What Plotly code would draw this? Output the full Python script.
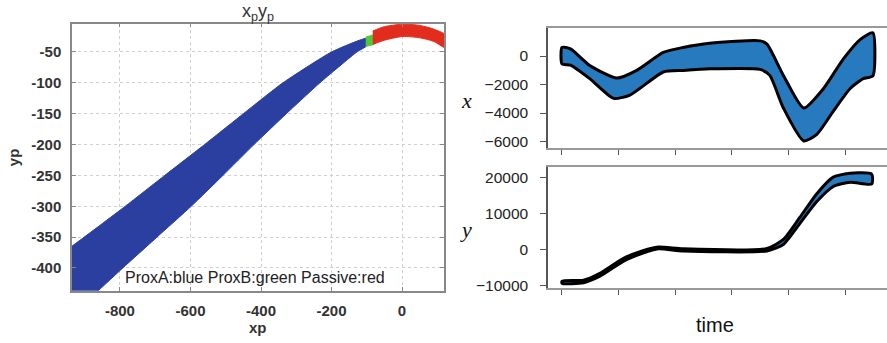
import plotly.graph_objects as go

# ---------------- Left panel: xp / yp ----------------
proxA_upper_x = [-1000, -937, -785, -673, -560, -450, -338, -200, -100]
proxA_upper_y = [-389, -365, -300, -250, -200, -150, -100, -50, -28]
proxA_lower_x = [-100, -128, -233, -328, -420, -508, -598, -695, -792, -862, -945]
proxA_lower_y = [-40, -50, -100, -150, -200, -250, -300, -350, -400, -437, -480]

proxB_x = [-103, -81, -81, -103]
proxB_y = [-26, -22, -38, -41]

passive_upper_x = [-83, -50, 0, 13, 50, 90, 130]
passive_upper_y = [-16, -9, -5, -5, -7, -13, -25]
passive_lower_x = [130, 90, 50, 13, 0, -50, -83]
passive_lower_y = [-45, -33, -27, -25, -25, -31, -38]

left_xticks = [-800, -600, -400, -200, 0]
left_xtick_text = ["-800", "-600", "-400", "-200", "0"]
left_yticks = [-50, -100, -150, -200, -250, -300, -350, -400]
left_ytick_text = ["-50", "-100", "-150", "-200", "-250", "-300", "-350", "-400"]

# ---------------- Right panels: x and y over time ----------------
x_up_t = [0, 0.15, 0.49, 0.97, 1.32, 1.79, 2.14, 2.61, 3.5, 3.62, 3.91, 4.27, 4.62, 4.97, 5.27, 5.49]
x_up_v = [600, 500, -670, -1550, -1010, 250, 600, 900, 1060, 830, -1360, -3650, -2280, -200, 1170, 1630]
x_lo_t = [0, 0.15, 0.49, 0.91, 1.2, 1.79, 2.14, 2.61, 3.5, 3.67, 3.91, 4.27, 4.5, 4.79, 5.09, 5.32, 5.49]
x_lo_v = [-550, -640, -1590, -2970, -2740, -1120, -1010, -900, -940, -1360, -3650, -5960, -5500, -3880, -2280, -1590, -1400]

y_up_t = [0, 0.38, 0.67, 1.08, 1.43, 1.7, 2.14, 3.62, 3.91, 4.2, 4.5, 4.79, 5.09, 5.47]
y_up_v = [-8700, -8400, -6500, -2400, -200, 800, 300, 400, 2900, 9000, 15600, 20200, 21300, 21000]
y_lo_t = [0, 0.38, 0.67, 1.08, 1.43, 1.7, 2.14, 3.62, 3.91, 4.2, 4.5, 4.79, 5.09, 5.47]
y_lo_v = [-9300, -9100, -7300, -3200, -900, 300, -300, -300, 1500, 7300, 13400, 17600, 18800, 18300]

time_ticks = [0, 1, 2, 3, 4, 5]
x_ticks = [0, -2000, -4000, -6000]
x_tick_text = ["0", "\u22122000", "\u22124000", "\u22126000"]
y_ticks = [20000, 10000, 0, -10000]
y_tick_text = ["20000", "10000", "0", "\u221210000"]

BLUE_DARK = "rgb(43,63,160)"
GREEN = "rgb(80,200,60)"
RED = "rgb(226,45,30)"
BLUE_FILL = "rgb(40,122,190)"

fig = go.Figure()

# left panel traces
fig.add_trace(go.Scatter(
    x=proxA_upper_x + proxA_lower_x, y=proxA_upper_y + proxA_lower_y,
    fill="toself", fillcolor=BLUE_DARK,
    line=dict(color=BLUE_DARK, width=1, shape="spline", smoothing=0.5),
    mode="lines", xaxis="x", yaxis="y", showlegend=False, hoverinfo="skip"))
fig.add_trace(go.Scatter(
    x=proxB_x, y=proxB_y, fill="toself", fillcolor=GREEN,
    line=dict(color=GREEN, width=1), mode="lines",
    xaxis="x", yaxis="y", showlegend=False, hoverinfo="skip"))
fig.add_trace(go.Scatter(
    x=passive_upper_x + passive_lower_x, y=passive_upper_y + passive_lower_y,
    fill="toself", fillcolor=RED, line=dict(color=RED, width=1, shape="spline", smoothing=0.8),
    mode="lines", xaxis="x", yaxis="y", showlegend=False, hoverinfo="skip"))

# right top panel
fig.add_trace(go.Scatter(
    x=x_up_t + x_lo_t[::-1] + [x_up_t[0]], y=x_up_v + x_lo_v[::-1] + [x_up_v[0]],
    fill="toself", fillcolor=BLUE_FILL,
    line=dict(color="black", width=3, shape="spline", smoothing=0.6),
    mode="lines", xaxis="x2", yaxis="y2", showlegend=False, hoverinfo="skip"))

# right bottom panel
fig.add_trace(go.Scatter(
    x=y_up_t + y_lo_t[::-1] + [y_up_t[0]], y=y_up_v + y_lo_v[::-1] + [y_up_v[0]],
    fill="toself", fillcolor=BLUE_FILL,
    line=dict(color="black", width=3, shape="spline", smoothing=0.6),
    mode="lines", xaxis="x3", yaxis="y3", showlegend=False, hoverinfo="skip"))

W, H = 887, 343
def px(x):
    return x / W
def py(y):
    return (H - y) / H

SANS = "Liberation Sans, Arial, sans-serif"
tickfont_left = dict(family=SANS, size=15, color="#333", weight="bold")
tickfont_right = dict(family=SANS, size=15.5, color="#222")

fig.update_layout(
    width=W, height=H,
    margin=dict(l=0, r=0, t=0, b=0),
    paper_bgcolor="white", plot_bgcolor="white",
    xaxis=dict(domain=[px(72), px(444)], range=[-936, 119],
               tickvals=left_xticks, ticktext=left_xtick_text,
               showgrid=True, gridcolor="#cfcfcf", griddash="dot", gridwidth=1,
               zeroline=False, showline=True, linecolor="#888", linewidth=1.5,
               mirror="ticks", ticks="inside", ticklen=4, tickcolor="#888",
               ticklabelstandoff=5, tickfont=tickfont_left, anchor="y"),
    yaxis=dict(domain=[py(296), py(24)], range=[-437, -4],
               tickvals=left_yticks, ticktext=left_ytick_text,
               showgrid=True, gridcolor="#cfcfcf", griddash="dot", gridwidth=1,
               zeroline=False, showline=True, linecolor="#888", linewidth=1.5,
               mirror="ticks", ticks="inside", ticklen=4, tickcolor="#888",
               ticklabelstandoff=6, tickfont=tickfont_left, anchor="x"),
    xaxis2=dict(domain=[px(548), 1.0], range=[-0.247, 5.74],
                tickvals=time_ticks, showticklabels=False,
                showgrid=False, zeroline=False, showline=True, linecolor="#999",
                linewidth=1.5, mirror=True, ticks="outside", ticklen=5,
                tickcolor="#555", anchor="y2"),
    yaxis2=dict(domain=[py(151), py(29)], range=[-6480, 1930],
                tickvals=x_ticks, ticktext=x_tick_text,
                showgrid=False, zeroline=False, showline=True, linecolor="#555",
                linewidth=1.5, ticks="outside", ticklen=6, tickcolor="#555",
                ticklabelstandoff=9, tickfont=tickfont_right, anchor="x2"),
    xaxis3=dict(domain=[px(548), 1.0], range=[-0.247, 5.74],
                tickvals=time_ticks, showticklabels=False,
                showgrid=False, zeroline=False, showline=True, linecolor="#999",
                linewidth=1.5, mirror=True, ticks="outside", ticklen=5,
                tickcolor="#555", anchor="y3"),
    yaxis3=dict(domain=[py(293), py(170)], range=[-10550, 23000],
                tickvals=y_ticks, ticktext=y_tick_text,
                showgrid=False, zeroline=False, showline=True, linecolor="#555",
                linewidth=1.5, ticks="outside", ticklen=6, tickcolor="#555",
                ticklabelstandoff=9, tickfont=tickfont_right, anchor="x3"),
)

def ann(x, y, text, font, angle=0):
    fig.add_annotation(x=px(x), y=py(y), xref="paper", yref="paper", text=text,
                       showarrow=False, font=font, textangle=angle,
                       xanchor="center", yanchor="middle")

ann(258, 13, "x<sub>p</sub>y<sub>p</sub>", dict(family=SANS, size=18, color="#333"))
ann(13, 160, "yp", dict(family=SANS, size=15, color="#333", weight="bold"), -90)
ann(258, 333, "xp", dict(family=SANS, size=15, color="#333", weight="bold"))
ann(255, 282, "ProxA:blue ProxB:green Passive:red", dict(family=SANS, size=16, color="#222"))
serif = dict(family="Liberation Serif, DejaVu Serif, serif", size=22, color="#111", style="italic")
ann(466, 102, "x", serif)
ann(466, 234, "y", serif)
ann(715, 331, "time", dict(family=SANS, size=20, color="#111"))

fig.write_html("out.html")
